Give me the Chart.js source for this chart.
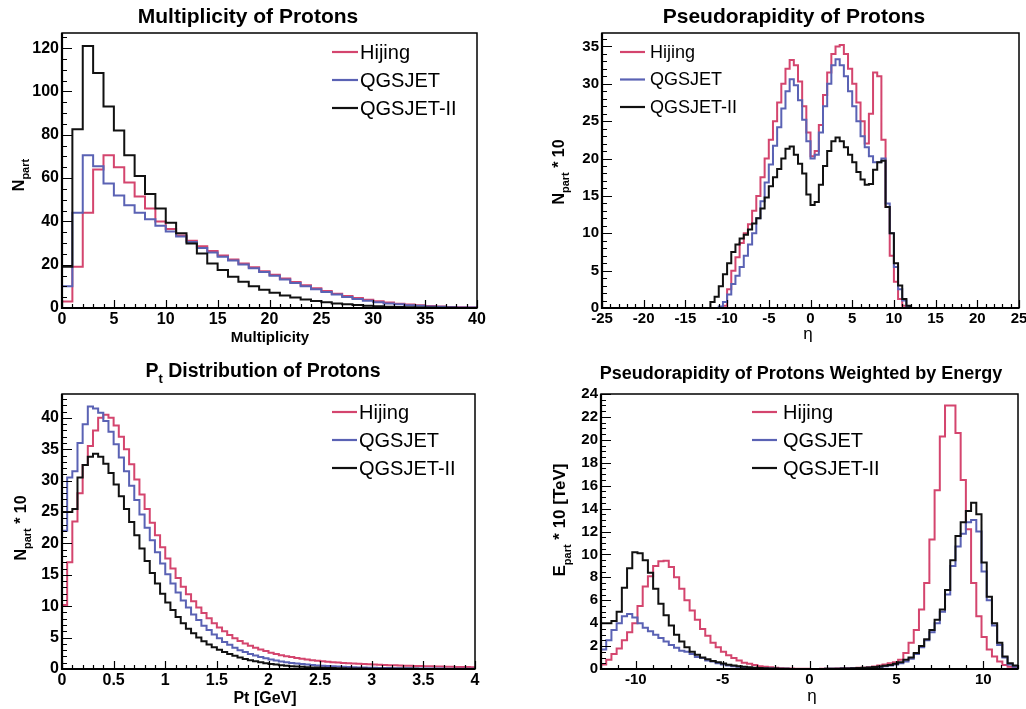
<!DOCTYPE html>
<html><head><meta charset="utf-8">
<script src="https://cdn.jsdelivr.net/npm/chart.js@4.4.0/dist/chart.umd.min.js"></script>
<style>
html,body{margin:0;padding:0;background:#fff;}
#wrap{position:relative;width:1026px;height:709px;overflow:hidden;background:#fff;}
canvas{position:absolute;display:block;}
</style></head><body>
<div id="wrap">
<canvas id="c1" width="513" height="354" style="left:0;top:0"></canvas>
<canvas id="c2" width="513" height="354" style="left:513px;top:0"></canvas>
<canvas id="c3" width="513" height="355" style="left:0;top:354px"></canvas>
<canvas id="c4" width="513" height="355" style="left:513px;top:354px"></canvas>
</div>
<script>
// ---------- series names ----------
const seriesNames = ['Hijing', 'QGSJET', 'QGSJET-II'];

// ---------- Panel 1: multiplicity (bins of 1 from 0 to 40) ----------
const multStart = 0, multWidth = 1;
const multHijing = [3,19,44,64,70.5,65,58,51.5,46,40,36.5,33.5,31,28.5,26.3,24.3,22.4,20.6,18.8,17,15.3,13.6,12,10.5,9.1,7.8,6.6,5.5,4.6,3.8,3.1,2.5,2,1.6,1.25,0.95,0.7,0.5,0.35,0.25];
const multQgsjet = [10,44,70.6,65.5,57.5,52,47.5,44,41,38,35.3,33,30.5,27.7,25.6,23.7,21.9,20.1,18.4,16.6,14.9,13.2,11.6,10.1,8.7,7.4,6.2,5.1,4.2,3.4,2.7,2.1,1.7,1.3,1,0.75,0.55,0.4,0.28,0.2];
const multQgsjet2 = [19,82.5,121,108.5,93,82,70.6,61,52.6,46,39.4,34.5,29.8,25.2,20.6,17.5,14.4,12.1,10.1,8.4,7,5.8,4.8,3.9,3.2,2.6,2.1,1.7,1.35,1.05,0.8,0.6,0.45,0.35,0.25,0.18,0.12,0.08,0.05,0.03];
const multTicksX = [0,5,10,15,20,25,30,35,40];
const multTicksY = [0,20,40,60,80,100,120];

// ---------- Panel 2: pseudorapidity (bins of 0.5 from -12 to 12) ----------
const etaStart = -12, etaWidth = 0.5;
const etaHijing = [0,0,0,0.3,2.5,5,6.8,8.7,10,11.2,13,15,17.5,20,22.5,25,27.5,30,32,33.2,32.5,30.3,27,23.5,20.3,21,24.5,28.5,31.5,34,35,35.2,34,32,30,27.5,25,22,26,31.5,31,22.5,13.5,7,3.5,1.2,0.3,0];
const etaQgsjet = [0,0,0.2,0.8,1.8,3.2,4.3,5.5,7,8.5,10,12,14.3,16.8,19.2,21.7,24.2,26.7,29,30.6,29.8,27.8,25.2,22.3,20,20.5,23.5,27,30,32.5,33.3,32.5,31,29,27,25,23,21.5,20.3,19.5,19.5,20,14,10,5.5,2.5,1,0.2];
const etaQgsjet2 = [0.8,1.5,2.9,4.5,6,7.5,8.5,9.3,9.8,10.5,11.3,12,13.3,14.8,16.3,17.5,18.6,20,21.3,21.6,20.5,19.3,18,15.2,13.8,14.2,16.5,19,21,22.3,22.8,22.3,21.5,20.5,19.5,18.2,17.2,16.5,16.6,18.5,19.5,19.7,13.5,10,6,3,1.2,0.3];
const etaTicksX = [-25,-20,-15,-10,-5,0,5,10,15,20,25];
const etaTicksY = [0,5,10,15,20,25,30,35];

// ---------- Panel 3: Pt (bins of 0.05 GeV from 0 to 4) ----------
const ptStart = 0, ptWidth = 0.05;
const ptHijing = [10.2,17,23.5,28,32.5,35.5,38,40,40.5,40,
38.8,37,35,32.6,30.2,27.8,25.5,23.3,21.3,19.4,
17.6,16,14.5,13.1,11.9,10.8,9.8,8.9,8.1,7.3,
6.6,6,5.4,4.9,4.45,4.05,3.7,3.4,3.1,2.85,
2.6,2.4,2.2,2.05,1.9,1.75,1.62,1.5,1.4,1.3,
1.22,1.15,1.08,1.02,0.96,0.91,0.86,0.82,0.78,0.74,
0.7,0.67,0.64,0.61,0.58,0.55,0.53,0.5,0.48,0.46,
0.44,0.42,0.4,0.38,0.36,0.35,0.33,0.32,0.3,0.29];
const ptQgsjet = [22,30.5,31.5,36,39,41.8,41.5,40.8,39.5,37.8,
35.8,33.7,31.5,29.2,26.9,24.6,22.5,20.5,18.6,16.8,
15.1,13.6,12.2,10.9,9.8,8.7,7.8,6.9,6.2,5.5,
4.9,4.3,3.85,3.4,3,2.7,2.4,2.15,1.9,1.7,
1.5,1.35,1.2,1.08,0.97,0.87,0.78,0.7,0.63,0.57,
0.51,0.46,0.42,0.38,0.34,0.31,0.28,0.25,0.23,0.21,
0.19,0.17,0.16,0.14,0.13,0.12,0.11,0.1,0.09,0.08,
0.08,0.07,0.06,0.06,0.05,0.05,0.04,0.04,0.04,0.03];
const ptQgsjet2 = [25,25,25.5,30.5,32.5,33.8,34.3,33.8,32.7,31.2,
29.4,27.5,25.5,23.4,21.3,19.2,17.2,15.3,13.6,12,
10.6,9.4,8.3,7.3,6.4,5.7,5,4.4,3.9,3.45,
3.05,2.7,2.4,2.1,1.85,1.6,1.4,1.22,1.06,0.92,
0.8,0.7,0.6,0.52,0.45,0.39,0.34,0.29,0.25,0.22,
0.19,0.16,0.14,0.12,0.1,0.09,0.08,0.07,0.06,0.05,
0.04,0.04,0.03,0.03,0.03,0.02,0.02,0.02,0.02,0.01,
0.01,0.01,0.01,0.01,0.01,0.01,0.01,0.01,0.01,0.01];
const ptTicksX = [0,0.5,1,1.5,2,2.5,3,3.5,4];
const ptTicksY = [0,5,10,15,20,25,30,35,40];

// ---------- Panel 4: energy-weighted pseudorapidity (bins of 0.3 from -12 to 12) ----------
const ewStart = -12, ewWidth = 0.3;
const ewHijing = [0.4,0.8,1.3,1.8,2.5,3.2,4,5.5,7.2,8.1,
9,9.4,9.45,8.9,8,7,6,5.1,4.3,3.5,
2.9,2.3,1.9,1.5,1.2,0.95,0.75,0.55,0.45,0.35,
0.25,0.2,0.15,0.1,0.07,0.05,0.04,0.03,0.02,0.02,
0.01,0.01,0.02,0.02,0.03,0.04,0.05,0.06,0.08,0.1,
0.12,0.16,0.22,0.3,0.4,0.5,0.6,0.8,1.4,2.3,
3.4,5.2,7.5,11.3,15.6,20.3,23,23,20.6,16.5,
12.2,7.5,4.6,2.8,1.7,1.1,0.66,0.35,0.2,0.1];
const ewQgsjet = [1.7,2.5,3.4,4,4.6,4.8,4.5,4,3.6,3.3,
3,2.7,2.4,2.1,1.85,1.6,1.5,1.3,1.05,0.95,
0.75,0.65,0.5,0.4,0.3,0.25,0.2,0.15,0.1,0.08,
0.06,0.05,0.04,0.03,0.02,0.02,0.01,0.01,0.01,0.01,
0.01,0.01,0.01,0.02,0.02,0.03,0.04,0.05,0.06,0.07,
0.09,0.11,0.14,0.18,0.23,0.3,0.4,0.5,0.65,0.9,
1.3,1.9,2.5,3.2,4,5,6.5,9,10.7,11.8,
12.8,13,12,8.5,6,3.8,2.1,1,0.4,0.2];
const ewQgsjet2 = [4,4,4.2,5,7.1,8.8,10.2,10.1,9.5,8.4,
7,5.7,4.7,3.8,3,2.4,1.9,1.5,1.25,1,
0.85,0.7,0.58,0.47,0.38,0.3,0.24,0.19,0.15,0.11,
0.08,0.06,0.05,0.04,0.03,0.02,0.01,0.01,0.01,0.01,
0.01,0.01,0.01,0.02,0.02,0.03,0.04,0.05,0.06,0.08,
0.1,0.13,0.17,0.22,0.28,0.35,0.45,0.6,0.8,1,
1.4,2,2.6,3.4,4.3,5.2,6.9,9.5,11.6,12.8,
13.8,14.5,13.5,9.3,6.3,4,2.3,1.1,0.5,0.3];
const ewTicksX = [-10,-5,0,5,10];
const ewTicksY = [0,2,4,6,8,10,12,14,16,18,20,22,24];

// ---------- styling ----------
const FONT = "'Liberation Sans', Arial, Helvetica, sans-serif";
const COLORS = ['#d4456e', '#5a62b4', '#111111'];

// points at right bin edges; with stepped 'after' each segment rises at the
// left edge of the bin and runs flat across it
function histPoints(start, width, vals) {
  const pts = [{x: start, y: 0}];
  for (let i = 0; i < vals.length; i++) pts.push({x: +(start + width * (i + 1)).toFixed(6), y: vals[i]});
  pts.push({x: +(start + width * vals.length).toFixed(6), y: 0});
  return pts;
}

function parseRich(str) {
  const segs = []; const re = /_\{([^}]*)\}/g; let last = 0, m;
  while ((m = re.exec(str))) {
    if (m.index > last) segs.push({t: str.slice(last, m.index), sub: false});
    segs.push({t: m[1], sub: true}); last = re.lastIndex;
  }
  if (last < str.length) segs.push({t: str.slice(last), sub: false});
  return segs;
}

function drawRich(ctx, str, cx, cy, size, weight) {
  const segs = parseRich(str);
  const subSize = Math.round(size * 0.66);
  let total = 0;
  const parts = segs.map(s => {
    const f = `${weight} ${s.sub ? subSize : size}px ${FONT}`;
    ctx.font = f; const w = ctx.measureText(s.t).width; total += w;
    return {t: s.t, f, w, sub: s.sub};
  });
  let x = cx - total / 2; const base = cy + size * 0.36;
  ctx.fillStyle = '#000'; ctx.textBaseline = 'alphabetic'; ctx.textAlign = 'left';
  parts.forEach(p => { ctx.font = p.f; ctx.fillText(p.t, x, base + (p.sub ? size * 0.32 : 0)); x += p.w; });
}

function tickValues(min, max, step) {
  const out = [];
  const k0 = Math.ceil(min / step - 1e-6), k1 = Math.floor(max / step + 1e-6);
  for (let k = k0; k <= k1; k++) out.push(+(k * step).toFixed(6));
  return out;
}
function isMult(v, m) { const r = v / m; return Math.abs(r - Math.round(r)) < 1e-6; }

const decor = {
  id: 'decor',
  afterDatasetsDraw(chart) {
    const o = chart.options.plugins.decor;
    const ctx = chart.ctx, a = chart.chartArea;
    const xs = chart.scales.x, ys = chart.scales.y;
    ctx.save();
    ctx.strokeStyle = '#000'; ctx.lineWidth = 1.2;
    ctx.beginPath();
    tickValues(xs.min, xs.max, o.xMinor).forEach(v => {
      const len = isMult(v, o.xMajor) ? o.xLen[0] : o.xLen[1];
      const p = Math.round(xs.getPixelForValue(v)) + 0.5;
      ctx.moveTo(p, a.bottom); ctx.lineTo(p, a.bottom - len);
    });
    tickValues(ys.min, ys.max, o.yMinor).forEach(v => {
      const len = isMult(v, o.yMajor) ? o.yLen[0] : o.yLen[1];
      const p = Math.round(ys.getPixelForValue(v)) + 0.5;
      ctx.moveTo(a.left, p); ctx.lineTo(a.left + len, p);
    });
    ctx.stroke();
    ctx.lineWidth = 1.5;
    ctx.strokeRect(a.left, a.top, a.right - a.left, a.bottom - a.top);
    ctx.lineWidth = 2.2;
    ctx.beginPath();
    ctx.moveTo(a.left, a.top); ctx.lineTo(a.left, a.bottom); ctx.lineTo(a.right, a.bottom);
    ctx.stroke();
    const L = o.legend;
    chart.data.datasets.forEach((ds, i) => {
      const y = L.y + i * L.dy;
      ctx.strokeStyle = ds.borderColor; ctx.lineWidth = 2.2;
      ctx.beginPath(); ctx.moveTo(L.x, y); ctx.lineTo(L.x + L.len, y); ctx.stroke();
      ctx.fillStyle = '#000'; ctx.font = `${L.size}px ${FONT}`;
      ctx.textAlign = 'left'; ctx.textBaseline = 'middle';
      ctx.fillText(ds.label, L.x + L.len + L.gap, y + 1);
    });
    drawRich(ctx, o.title.text, o.title.x, o.title.y, o.title.size, 'bold');
    drawRich(ctx, o.xlabel.text, o.xlabel.x, o.xlabel.y, o.xlabel.size, o.xlabel.weight);
    ctx.save();
    ctx.translate(o.ylabel.x, o.ylabel.y); ctx.rotate(-Math.PI / 2);
    drawRich(ctx, o.ylabel.text, 0, 0, o.ylabel.size, 'bold');
    ctx.restore();
    ctx.restore();
  }
};

function makePanel(id, p) {
  const canvas = document.getElementById(id);
  const W = canvas.width, H = canvas.height;
  const tickFont = {family: FONT, size: p.tickSize, weight: 'bold'};
  const fmt = v => String(+(+v).toFixed(4));
  return new Chart(canvas, {
    type: 'line',
    data: {
      datasets: p.series.map((vals, i) => ({
        label: seriesNames[i],
        data: histPoints(p.start, p.width, vals),
        borderColor: COLORS[i], borderWidth: 2, pointRadius: 0, fill: false,
        stepped: 'after', borderJoinStyle: 'miter', order: 3 - i
      }))
    },
    options: {
      responsive: false, animation: false, events: [],
      layout: {padding: {left: 0, top: p.area.t, right: W - p.area.r, bottom: 0}},
      plugins: {
        legend: {display: false}, title: {display: false}, tooltip: {enabled: false},
        decor: p.decor
      },
      scales: {
        x: {
          type: 'linear', min: p.xMin, max: p.xMax,
          grid: {display: false, drawTicks: false, tickLength: 0},
          border: {display: false},
          afterBuildTicks: s => { s.ticks = p.xTicks.map(v => ({value: v})); },
          afterFit: s => { s.height = H - p.area.b; s.paddingLeft = 0; s.paddingRight = 0; },
          ticks: {font: tickFont, color: '#000', padding: 2, maxRotation: 0, autoSkip: false, callback: fmt}
        },
        y: {
          type: 'linear', min: p.yMin, max: p.yMax,
          grid: {display: false, drawTicks: false, tickLength: 0},
          border: {display: false},
          afterBuildTicks: s => { s.ticks = p.yTicks.map(v => ({value: v})); },
          afterFit: s => { s.width = p.area.l; s.paddingTop = 0; s.paddingBottom = 0; },
          ticks: {font: tickFont, color: '#000', padding: 3, autoSkip: false, callback: fmt}
        }
      }
    },
    plugins: [decor]
  });
}

makePanel('c1', {
  area: {l: 62, t: 33, r: 477, b: 308},
  xMin: 0, xMax: 40, yMin: 0, yMax: 127, xTicks: multTicksX, yTicks: multTicksY, tickSize: 16,
  start: multStart, width: multWidth, series: [multHijing, multQgsjet, multQgsjet2],
  decor: {
    xMajor: 5, xMinor: 1, yMajor: 20, yMinor: 5, xLen: [8, 4], yLen: [10, 5],
    legend: {x: 332, y: 52, dy: 28, len: 26, gap: 2, size: 20},
    title: {text: 'Multiplicity of Protons', x: 248, y: 15, size: 21},
    xlabel: {text: 'Multiplicity', x: 270, y: 337, size: 15, weight: 'bold'},
    ylabel: {text: 'N_{part}', x: 18, y: 175, size: 16}
  }
});

makePanel('c2', {
  area: {l: 89, t: 33, r: 506, b: 308},
  xMin: -25, xMax: 25, yMin: 0, yMax: 36.8, xTicks: etaTicksX, yTicks: etaTicksY, tickSize: 15,
  start: etaStart, width: etaWidth, series: [etaHijing, etaQgsjet, etaQgsjet2],
  decor: {
    xMajor: 5, xMinor: 1, yMajor: 5, yMinor: 1, xLen: [8, 4], yLen: [10, 5],
    legend: {x: 107, y: 52, dy: 27.5, len: 25, gap: 5, size: 18},
    title: {text: 'Pseudorapidity of Protons', x: 281, y: 15, size: 21},
    xlabel: {text: 'η', x: 295, y: 333, size: 17, weight: 'normal'},
    ylabel: {text: 'N_{part} * 10', x: 45, y: 172, size: 16}
  }
});

makePanel('c3', {
  area: {l: 62, t: 40, r: 475, b: 315},
  xMin: 0, xMax: 4, yMin: 0, yMax: 43.8, xTicks: ptTicksX, yTicks: ptTicksY, tickSize: 16,
  start: ptStart, width: ptWidth, series: [ptHijing, ptQgsjet, ptQgsjet2],
  decor: {
    xMajor: 0.5, xMinor: 0.1, yMajor: 5, yMinor: 1, xLen: [8, 4], yLen: [10, 5],
    legend: {x: 332, y: 58, dy: 28, len: 25, gap: 2, size: 20},
    title: {text: 'P_{t} Distribution of Protons', x: 263, y: 16, size: 19.5},
    xlabel: {text: 'Pt [GeV]', x: 265, y: 343, size: 16, weight: 'bold'},
    ylabel: {text: 'N_{part} * 10', x: 20, y: 174, size: 16}
  }
});

makePanel('c4', {
  area: {l: 88, t: 40, r: 505, b: 315},
  xMin: -12, xMax: 12, yMin: 0, yMax: 24, xTicks: ewTicksX, yTicks: ewTicksY, tickSize: 15,
  start: ewStart, width: ewWidth, series: [ewHijing, ewQgsjet, ewQgsjet2],
  decor: {
    xMajor: 5, xMinor: 1, yMajor: 2, yMinor: 0.5, xLen: [8, 4], yLen: [10, 5],
    legend: {x: 239, y: 58, dy: 28, len: 25, gap: 6, size: 20},
    title: {text: 'Pseudorapidity of Protons Weighted by Energy', x: 288, y: 19, size: 18},
    xlabel: {text: 'η', x: 299, y: 341, size: 17, weight: 'normal'},
    ylabel: {text: 'E_{part} * 10 [TeV]', x: 46, y: 166, size: 17}
  }
});
</script>
</body></html>
